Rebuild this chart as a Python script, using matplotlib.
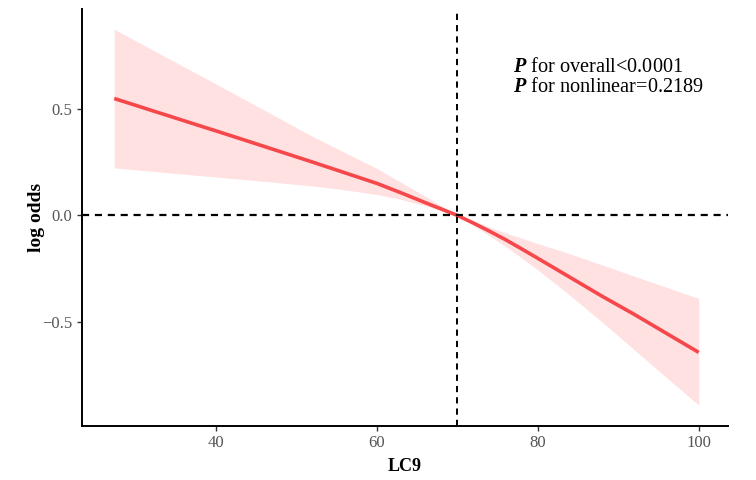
import matplotlib.pyplot as plt

plt.rcParams['font.family'] = ['Liberation Serif', 'DejaVu Serif']
plt.rcParams['mathtext.fontset'] = 'custom'
plt.rcParams['mathtext.rm'] = 'Liberation Serif'
plt.rcParams['mathtext.bfit'] = 'Liberation Serif:italic:bold'

# RCS curve
lc9 = [27.35, 32, 37, 42, 47, 52, 56, 60, 63, 66, 68, 70,
       72, 74, 76, 78, 80, 84, 88, 92, 96, 100]
log_odds = [0.548, 0.492, 0.432, 0.372, 0.311, 0.250, 0.200, 0.150, 0.106, 0.060, 0.030, 0.0,
            -0.036, -0.074, -0.114, -0.157, -0.201, -0.290, -0.379, -0.464, -0.553, -0.642]
upper = [0.873, 0.778, 0.677, 0.575, 0.473, 0.37, 0.295, 0.22, 0.155, 0.09, 0.045, 0.0,
         -0.026, -0.055, -0.082, -0.107, -0.132, -0.18, -0.232, -0.285, -0.337, -0.389]
lower = [0.223, 0.207, 0.19, 0.173, 0.156, 0.138, 0.12, 0.098, 0.075, 0.045, 0.022, 0.0,
         -0.048, -0.095, -0.145, -0.2, -0.255, -0.375, -0.5, -0.63, -0.76, -0.889]
ref_x = 70
xticks = [40, 60, 80, 100]
yticks = [-0.5, 0.0, 0.5]

fig = plt.figure(figsize=(7.56, 4.8), dpi=100)
ax = fig.add_axes([0.1085, 0.113, 0.8545, 0.8676])

ax.fill_between(lc9, lower, upper, color='#FFE1E2', lw=0)
ax.plot(lc9, log_odds, color='#F6474A', lw=2.6, solid_capstyle='butt')
ax.axhline(0, color='black', lw=1.6, linestyle=(0, (3.2, 2.6)))
ax.axvline(ref_x, color='black', lw=1.4, linestyle=(0, (3.2, 2.6)))

ax.text(76.9, 0.672, r'$\mathbfit{P}$ for overall<0.0001', fontsize=14.6, va='baseline')
ax.text(76.9, 0.578, r'$\mathbfit{P}$ for nonlinear=0.2189', fontsize=14.6, va='baseline')

ax.set_xlim(23.35, 103.65)
ax.set_ylim(-0.986, 0.966)
ax.set_xticks(xticks)
ax.set_yticks(yticks)
ax.set_xticklabels([str(t) for t in xticks])
ax.set_yticklabels(['\u22120.5', '0.0', '0.5'])
ax.tick_params(labelsize=12, labelcolor='#555555', color='#333333', length=3.5, width=1)
for s in ['top', 'right']:
    ax.spines[s].set_visible(False)
for s in ['left', 'bottom']:
    ax.spines[s].set_linewidth(1.4)

ax.set_xlabel('LC9', fontsize=13, fontweight='bold', labelpad=5)
ax.set_ylabel('log odds', fontsize=14, fontweight='bold', labelpad=-2)

fig.savefig('out.png', dpi=100)
